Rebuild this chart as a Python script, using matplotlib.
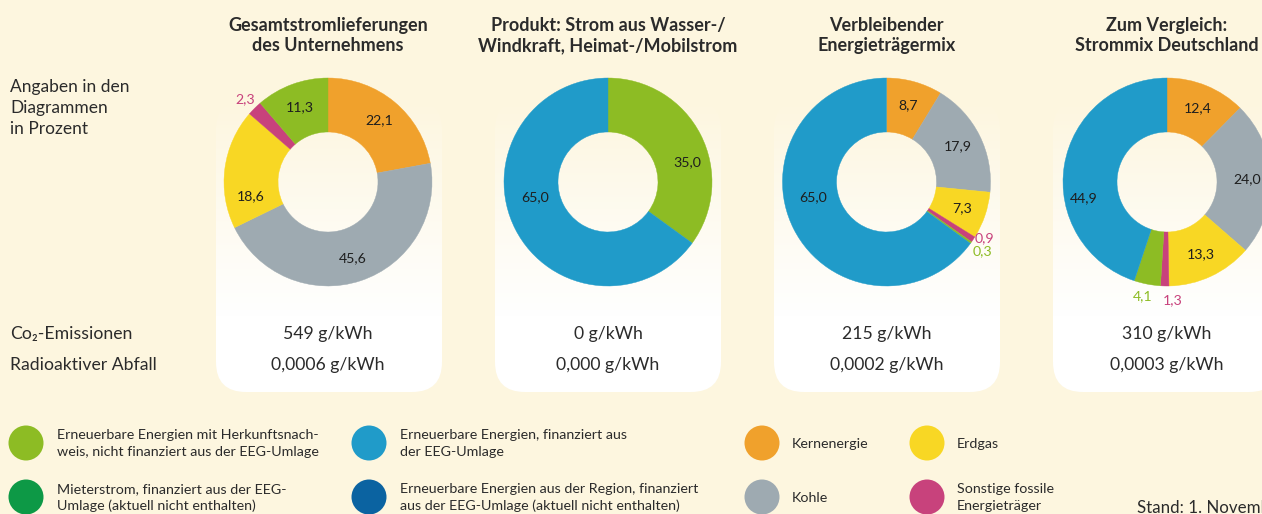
import numpy as np
import matplotlib
matplotlib.use("Agg")
import matplotlib.pyplot as plt
from matplotlib.patches import FancyBboxPatch, Ellipse

W, H = 1262, 514

# ---------------- data ----------------
source_names = ["Kernenergie", "Kohle", "Erdgas", "Sonstige fossile Energieträger",
                "EE mit Herkunftsnachweis", "EE finanziert aus der EEG-Umlage"]
source_colors = ["#f0a12c", "#9eaab1", "#f8d724", "#c8427c", "#8dbc24", "#209bc9"]

panel_titles = [
    ["Gesamtstromlieferungen", "des Unternehmens"],
    ["Produkt: Strom aus Wasser-/", "Windkraft, Heimat-/Mobilstrom"],
    ["Verbleibender", "Energieträgermix"],
    ["Zum Vergleich:", "Strommix Deutschland"],
]
mix_gesamt = [22.1, 45.6, 18.6, 2.3, 11.3, 0.0]
mix_produkt = [0.0, 0.0, 0.0, 0.0, 35.0, 65.0]
mix_rest = [8.7, 17.9, 7.3, 0.9, 0.3, 65.0]
mix_deutschland = [12.4, 24.0, 13.3, 1.3, 4.1, 44.9]

co2_values = ["549 g/kWh", "0 g/kWh", "215 g/kWh", "310 g/kWh"]
waste_values = ["0,0006 g/kWh", "0,000 g/kWh", "0,0002 g/kWh", "0,0003 g/kWh"]

row_labels = ["Co₂-Emissionen", "Radioaktiver Abfall"]
note_lines = ["Angaben in den", "Diagrammen", "in Prozent"]

legend_labels = [
    ["Erneuerbare Energien mit Herkunftsnach-", "weis, nicht finanziert aus der EEG-Umlage"],
    ["Mieterstrom, finanziert aus der EEG-", "Umlage (aktuell nicht enthalten)"],
    ["Erneuerbare Energien, finanziert aus", "der EEG-Umlage"],
    ["Erneuerbare Energien aus der Region, finanziert", "aus der EEG-Umlage (aktuell nicht enthalten)"],
    ["Kernenergie"],
    ["Kohle"],
    ["Erdgas"],
    ["Sonstige fossile", "Energieträger"],
]
legend_colors = ["#8dbc24", "#0d9946", "#209bc9", "#0b63a1",
                 "#f0a12c", "#9eaab1", "#f8d724", "#c8427c"]
stand_text = "Stand: 1. November"

# ---------------- style ----------------
BG = "#fdf6df"
TXT = "#2b2b2b"
FONT = ["Lato", "DejaVu Sans"]
plt.rcParams["font.family"] = FONT

fig = plt.figure(figsize=(W / 100, H / 100), dpi=100, facecolor=BG)
ax = fig.add_axes([0, 0, 1, 1])
ax.set_facecolor(BG)


def Y(py):
    return H - py


panel_cx = [328, 608, 886.5, 1167]
panel_x0 = [216, 495, 774, 1053]
panel_w = 226
panel_top, panel_bot = 100, 392
cy = 182
R_OUT, RING = 104, 54

# gradient panels
grad = np.ones((256, 1, 4))
t = np.linspace(0, 1, 256)  # 0 bottom -> 1 top
alpha = np.clip((1 - t) * 1.35, 0, 1)
grad[:, 0, 3] = alpha
for x0 in panel_x0:
    patch = FancyBboxPatch((x0, Y(panel_bot)), panel_w, panel_bot - panel_top,
                           boxstyle="round,pad=0,rounding_size=30",
                           facecolor="none", edgecolor="none")
    ax.add_patch(patch)
    im = ax.imshow(grad, extent=(x0, x0 + panel_w, Y(panel_bot), Y(panel_top)),
                   origin="lower", aspect="auto", zorder=1, interpolation="bilinear")
    im.set_clip_path(patch)

# label tweaks: (panel, slice) -> (clockwise angle shift, radius)
label_tweak = {
    (0, 2): (-18, 79),
    (0, 3): (0, 117),
    (1, 4): (13, 82),
    (1, 5): (15, 75),
    (2, 3): (-4, 113),
    (2, 4): (0, 118),
    (2, 5): (15, 75),
    (3, 3): (-4, 118),
    (3, 4): (1, 117),
    (3, 5): (-20, 85),
}

mixes = [mix_gesamt, mix_produkt, mix_rest, mix_deutschland]
for p, vals in enumerate(mixes):
    idx = [i for i, v in enumerate(vals) if v > 0]
    v = [vals[i] for i in idx]
    c = [source_colors[i] for i in idx]
    cx = panel_cx[p]
    wedges, _ = ax.pie(v, colors=c, radius=R_OUT, center=(cx, Y(cy)), startangle=90,
                       counterclock=False, frame=True,
                       wedgeprops=dict(width=RING, linewidth=0.3))
    for w in wedges:
        w.set_edgecolor(w.get_facecolor())
        w.set_zorder(3)
    for w, i, val in zip(wedges, idx, v):
        mid = 0.5 * (w.theta1 + w.theta2)
        shift, r = label_tweak.get((p, i), (0, 117 if val < 3 else 80))
        outside = r > R_OUT
        ang = np.deg2rad(mid - shift)
        lx = cx + r * np.cos(ang)
        ly = Y(cy) + r * np.sin(ang)
        txt = f"{val:.1f}".replace(".", ",")
        ax.text(lx, ly, txt, ha="center", va="center", fontsize=10.2,
                color=source_colors[i] if outside else "#1e1e1e", zorder=5)
    # titles
    ax.text(cx, Y(31), panel_titles[p][0], ha="center", va="baseline",
            fontsize=13, fontweight="bold", color=TXT, zorder=5)
    ax.text(cx, Y(51), panel_titles[p][1], ha="center", va="baseline",
            fontsize=13, fontweight="bold", color=TXT, zorder=5)
    ax.text(cx, Y(339), co2_values[p], ha="center", va="baseline",
            fontsize=12.7, color=TXT, zorder=5)
    ax.text(cx, Y(370), waste_values[p], ha="center", va="baseline",
            fontsize=12.7, color=TXT, zorder=5)

# left notes
for k, line in enumerate(note_lines):
    ax.text(10, Y(92 + 21 * k), line, ha="left", va="baseline", fontsize=12.5, color=TXT)
ax.text(10, Y(339), row_labels[0], ha="left", va="baseline", fontsize=12.7, color=TXT)
ax.text(10, Y(370), row_labels[1], ha="left", va="baseline", fontsize=12.7, color=TXT)

# legend
leg_pos = [(26, 443), (26, 497), (369, 443), (369, 497),
           (762, 443), (762, 497), (927, 443), (927, 497)]
leg_text_x = [57, 57, 400, 400, 792, 792, 957, 957]
for (lx, ly), tx, lab, col in zip(leg_pos, leg_text_x, legend_labels, legend_colors):
    ax.add_patch(Ellipse((lx, Y(ly)), 35, 35, facecolor=col, edgecolor="none", zorder=3))
    if len(lab) == 2:
        ax.text(tx, Y(ly - 4), lab[0], ha="left", va="baseline", fontsize=10.3, color=TXT)
        ax.text(tx, Y(ly + 13), lab[1], ha="left", va="baseline", fontsize=10.3, color=TXT)
    else:
        ax.text(tx, Y(ly + 5), lab[0], ha="left", va="baseline", fontsize=10.3, color=TXT)

ax.text(1137, Y(513), stand_text, ha="left", va="baseline", fontsize=12.2, color=TXT)

ax.set_xlim(0, W)
ax.set_ylim(0, H)
ax.set_aspect("auto")
ax.axis("off")
fig.savefig("out.png", dpi=100, facecolor=BG)
